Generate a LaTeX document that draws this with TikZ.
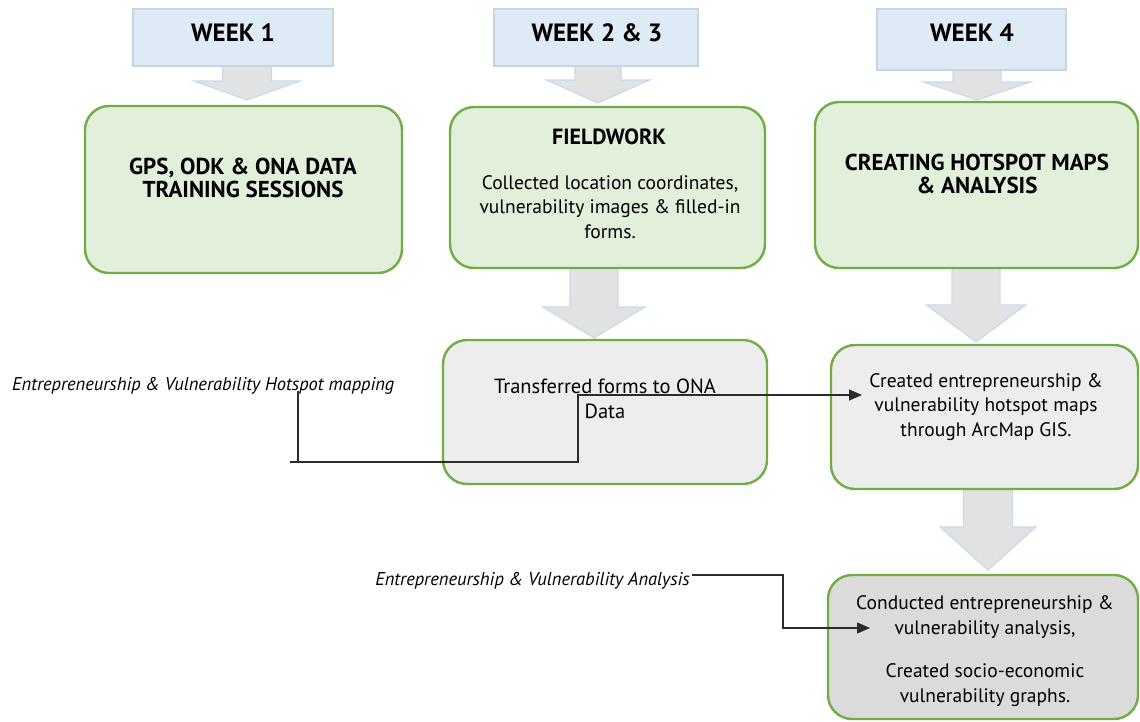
\documentclass[tikz,border=0pt]{standalone}
\usepackage{fontspec}
\setmainfont{PT Sans}
\usetikzlibrary{arrows.meta}
\definecolor{weekfill}{HTML}{DEEAF6}
\definecolor{weekline}{HTML}{C8D4E2}
\definecolor{greenfill}{HTML}{E2EFDA}
\definecolor{greenline}{HTML}{70AD47}
\definecolor{greyfill}{HTML}{EDEDED}
\definecolor{darkfill}{HTML}{DBDBDB}
\definecolor{arrowfill}{HTML}{E2E2E2}
\definecolor{arrowline}{HTML}{C9DAF0}
\definecolor{connline}{HTML}{2B2B2B}
% downward block arrow: centre x, top y, shaft half width, head half width, head y, tip y
\newcommand\downblock[6]{%
  \draw[blockarrow] ({#1-#3},#2) -- ({#1+#3},#2) -- ({#1+#3},#5) -- ({#1+#4},#5)
    -- (#1,#6) -- ({#1-#4},#5) -- ({#1-#3},#5) -- cycle;}
\begin{document}
\begin{tikzpicture}[x=1pt,y=-1pt,
  weekbox/.style={draw=weekline, fill=weekfill, line width=1.6pt, inner sep=0pt},
  greenbox/.style={draw=greenline, fill=greenfill, line width=2.4pt, rounded corners=24pt, inner sep=0pt},
  greybox/.style={greenbox, fill=greyfill},
  darkbox/.style={greenbox, fill=darkfill},
  blockarrow/.style={draw=arrowline, fill=arrowfill, line width=1.2pt, line join=miter},
  weektext/.style={font=\bfseries\fontsize{25}{28}\selectfont, inner sep=0pt},
  headtext/.style={font=\bfseries\fontsize{23}{23.5}\selectfont, align=center, inner sep=0pt},
  bodytext/.style={font=\fontsize{19.5}{24.5}\selectfont, align=center, inner sep=0pt},
  sidetext/.style={font=\itshape\fontsize{18.5}{20}\selectfont, inner sep=0pt},
  conn/.style={draw=connline, line width=1.3pt},
  tip/.style={-{Triangle[length=13pt,width=11pt]}}
]
\useasboundingbox (0,0) rectangle (1140,721);

% block arrows between the stages
\downblock{247}{66}{24.5}{53}{81}{100}
\downblock{598}{66}{23}{51.5}{80}{103}
\downblock{977}{70}{24}{53.5}{82}{100}
\downblock{594}{268}{24}{51}{307}{338}
\downblock{976}{268}{24}{49.5}{305}{342}
\downblock{988}{483}{24.5}{48}{527}{570}

% week headers
\node[weekbox, minimum width=200pt, minimum height=57pt] (w1) at (233,37.5) {};
\node[weekbox, minimum width=204pt, minimum height=57pt] (w2) at (596,37.5) {};
\node[weekbox, minimum width=189pt, minimum height=61pt] (w4) at (971.5,39.5) {};
\node[weektext] (w1t) at (233,33) {WEEK 1};
\node[weektext] (w2t) at (597,33) {WEEK 2 \& 3};
\node[weektext] (w4t) at (972,33) {WEEK 4};

% stage boxes
\node[greenbox, minimum width=317pt, minimum height=167pt] (b1) at (243.5,189.5) {};
\node[greenbox, minimum width=315pt, minimum height=161pt] (b2) at (607.5,187.5) {};
\node[greenbox, minimum width=323pt, minimum height=166pt] (b3) at (976.5,185) {};
\node[greybox, minimum width=324pt, minimum height=144pt] (b4) at (605,412) {};
\node[greybox, minimum width=307pt, minimum height=144pt] (b5) at (984.5,417) {};
\node[darkbox, minimum width=310pt, minimum height=144pt] (b6) at (983,647) {};

% box texts
\node[headtext] (t1) at (243,178) {GPS, ODK \& ONA DATA\\TRAINING SESSIONS};
\node[headtext, font=\bfseries\fontsize{22}{23.5}\selectfont] (t2h) at (609,137) {FIELDWORK};
\node[bodytext] (t2) at (610,207) {Collected location coordinates,\\vulnerability images \& filled-in\\forms.};
\node[headtext] (t3) at (977,174) {CREATING HOTSPOT MAPS\\\& ANALYSIS};
\node[bodytext, font=\fontsize{20.5}{24.5}\selectfont] (t4) at (605,399) {Transferred forms to ONA\\Data};
\node[bodytext] (t5) at (986,407) {Created entrepreneurship \&\\vulnerability hotspot maps\\through ArcMap GIS.};
\node[bodytext] (t6) at (985,651) {Conducted entrepreneurship \&\\vulnerability analysis,\\[19pt]Created socio-economic\\vulnerability graphs.};

% side labels
\node[sidetext, anchor=west] (la) at (12,386) {Entrepreneurship \& Vulnerability Hotspot mapping};
\node[sidetext, anchor=east] (lb) at (690,581) {Entrepreneurship \& Vulnerability Analysis};

% elbow connectors
\coordinate (a0) at (298,391);
\coordinate (a1) at (290,462);
\coordinate (a2) at (862,395);
\coordinate (b0) at (692,575);
\coordinate (b1e) at (870,628);
\draw[conn] (a0) -- (a0 |- a1);
\draw[conn, tip] (a1) -- (578,462) -- (578,395) -- (a2);
\draw[conn, tip] (b0) -- (783,575) -- (783,628) -- (b1e);
\end{tikzpicture}
\end{document}
